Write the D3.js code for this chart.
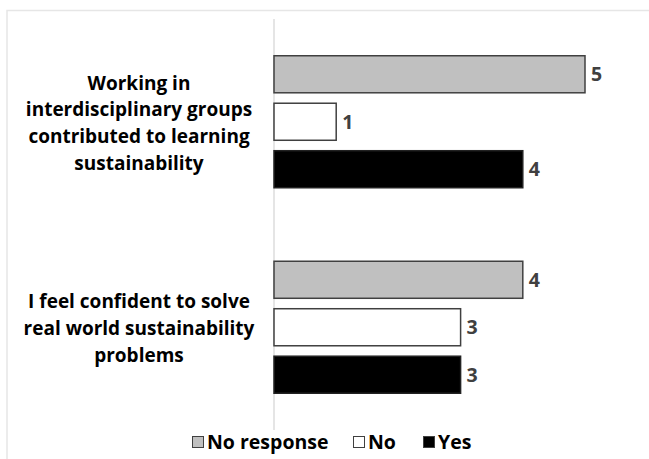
<!DOCTYPE html>
<html>
<head>
<meta charset="utf-8">
<script src="https://cdn.jsdelivr.net/npm/d3@7"></script>
<style>
body { margin: 0; background: #fff; }
svg { display: block; font-family: "Open Sans", sans-serif; }
</style>
</head>
<body>
<script>
const w = 649
const h = 459

// data
const categories = [
	["Working in", "interdisciplinary groups", "contributed to learning", "sustainability"],
	["I feel confident to solve", "real world sustainability", "problems"]
]
const seriesNames = ["No response", "No", "Yes"]
const noResponse = [5, 4]
const no = [1, 3]
const yes = [4, 3]
const colors = ["#c0c0c0", "#ffffff", "#000000"]

const values = [noResponse, no, yes]

const svg = d3.select("body").append("svg")
	.attr("width", w)
	.attr("height", h)

// outer frame (top + left only visible)
svg.append("path")
	.attr("d", "M7,459 V10.5 H649")
	.attr("fill", "none")
	.attr("stroke", "#e6e6e6")
	.attr("stroke-width", 1.5)

const plotLeft = 274
const plotTop = 19
const plotBottom = 430

let xScale = d3.scaleLinear()
	.domain([0, 5])
	.range([plotLeft, 585])

let yScale = d3.scaleBand()
	.domain(d3.range(categories.length))
	.range([plotTop, plotBottom])

let inner = d3.scaleBand()
	.domain(d3.range(seriesNames.length))
	.range([yScale.bandwidth() / 2 - 66, yScale.bandwidth() / 2 + 66])
	.paddingInner(0.22)

// axis line
svg.append("line")
	.attr("x1", plotLeft).attr("x2", plotLeft)
	.attr("y1", plotTop).attr("y2", plotBottom)
	.attr("stroke", "#dcdcdc")
	.attr("stroke-width", 1.5)

const groups = svg.selectAll("g.cat")
	.data(categories)
	.enter()
	.append("g")
	.attr("class", "cat")
	.attr("transform", (d, i) => "translate(0," + yScale(i) + ")")

groups.each(function(lines, ci) {
	let g = d3.select(this)
	seriesNames.forEach((s, si) => {
		let v = values[si][ci]
		g.append("rect")
			.attr("x", xScale(0))
			.attr("y", inner(si))
			.attr("width", xScale(v) - xScale(0))
			.attr("height", inner.bandwidth())
			.attr("fill", colors[si])
			.attr("stroke", si == 2 ? "#222" : "#404040")
			.attr("stroke-width", 1.5)
		g.append("text")
			.attr("x", xScale(v) + 6)
			.attr("y", inner(si) + inner.bandwidth() / 2)
			.attr("dy", "0.36em")
			.attr("font-size", 19.5)
			.attr("font-weight", "bold")
			.attr("fill", "#404040")
			.text(v)
	})

	let lh = 26.7
	let cy = yScale.bandwidth() / 2 + 1
	let t = g.append("text")
		.attr("text-anchor", "middle")
		.attr("font-size", 19)
		.attr("font-weight", "bold")
		.attr("fill", "#000")
	lines.forEach((l, li) => {
		t.append("tspan")
			.attr("x", 139)
			.attr("y", cy + (li - (lines.length - 1) / 2) * lh)
			.attr("dy", "0.36em")
			.text(l)
	})
})

// legend
const legendX = [192, 353, 423]
const legend = svg.selectAll("g.legend")
	.data(seriesNames)
	.enter()
	.append("g")
	.attr("class", "legend")
	.attr("transform", (d, i) => "translate(" + legendX[i] + ",442)")

legend.append("rect")
	.attr("x", 0.5)
	.attr("y", -5.5)
	.attr("width", 11)
	.attr("height", 11)
	.attr("fill", (d, i) => colors[i])
	.attr("stroke", "#404040")
	.attr("stroke-width", 1)

legend.append("text")
	.attr("x", 15)
	.attr("dy", "0.36em")
	.attr("font-size", 19.5)
	.attr("font-weight", "bold")
	.attr("fill", "#000")
	.text(d => d)
</script>
</body>
</html>
